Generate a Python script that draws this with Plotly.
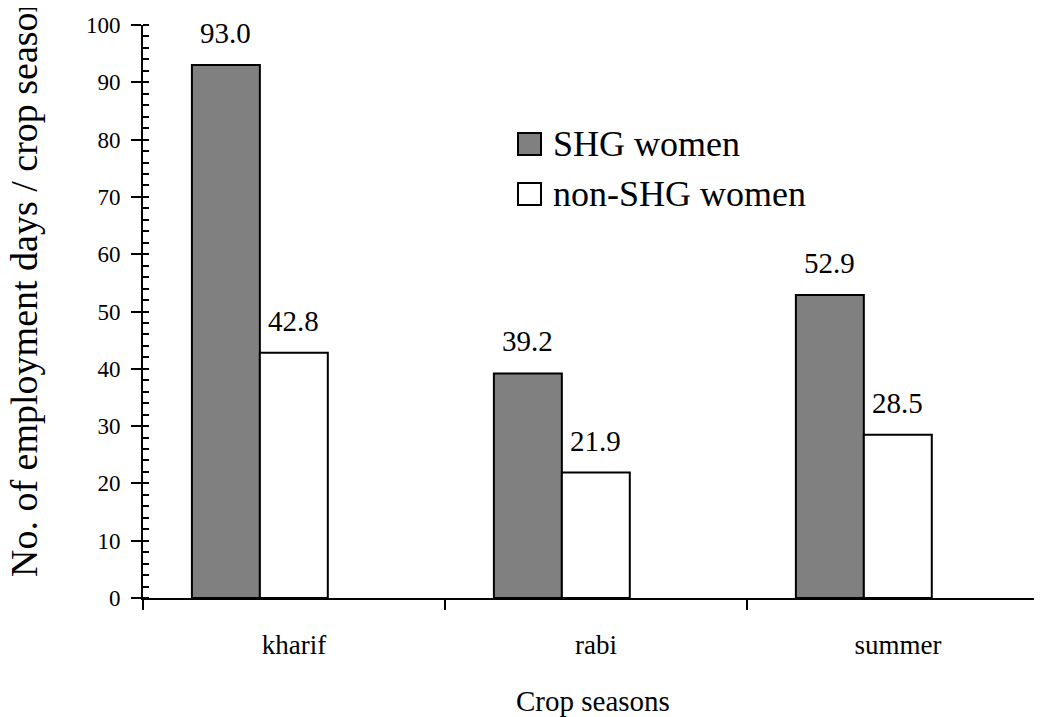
import plotly.graph_objects as go

seasons = ["kharif", "rabi", "summer"]
shg_name = "SHG women"
non_shg_name = "non-SHG women"
shg_values = [93.0, 39.2, 52.9]
non_shg_values = [42.8, 21.9, 28.5]
y_tick_values = [0, 10, 20, 30, 40, 50, 60, 70, 80, 90, 100]

FONT = "Liberation Serif, Times New Roman, serif"
PAGE_OFF = 8  # default body margin of the html page
W, H = 1042 - PAGE_OFF, 717 - PAGE_OFF
L, R, T, B = 143 - PAGE_OFF, 0, 25 - PAGE_OFF, 119
PW, PH = W - L - R, H - T - B

BAR_W = 0.225
OFF_SHG = -0.338
OFF_NON = OFF_SHG + BAR_W

def px_x(px):  # page pixel -> paper coordinate
    return (px - PAGE_OFF - L) / PW

def px_y(py):
    return (H - B - (py - PAGE_OFF)) / PH

fig = go.Figure()
fig.add_trace(go.Bar(
    x=seasons, y=shg_values, name=shg_name, width=BAR_W, offset=OFF_SHG,
    marker=dict(color="#808080", line=dict(color="black", width=2)),
    showlegend=False,
))
fig.add_trace(go.Bar(
    x=seasons, y=non_shg_values, name=non_shg_name, width=BAR_W, offset=OFF_NON,
    marker=dict(color="white", line=dict(color="black", width=2)),
    showlegend=False,
))

annotations = []
for offs, vals in ((OFF_SHG, shg_values), (OFF_NON, non_shg_values)):
    for i, v in enumerate(vals):
        annotations.append(dict(x=i + offs + BAR_W / 2, y=v, xref="x", yref="y",
                                text=f"{v:.1f}", showarrow=False, yanchor="bottom", yshift=14,
                                font=dict(family=FONT, size=29, color="black")))

# axis titles
annotations.append(dict(x=0.5, y=px_y(701), xref="paper", yref="paper", text="Crop seasons",
                        showarrow=False, xanchor="center", yanchor="middle",
                        font=dict(family=FONT, size=29, color="black")))
annotations.append(dict(x=px_x(24), y=px_y(285), xref="paper", yref="paper",
                        text="No. of employment days / crop season", textangle=-90,
                        showarrow=False, xanchor="center", yanchor="middle",
                        font=dict(family=FONT, size=38, color="black")))

# legend (manual, to match the large swatches)
legend_items = [(shg_name, "#808080", 144), (non_shg_name, "white", 194)]
shapes = []
for name, col, cy in legend_items:
    shapes.append(dict(type="rect", xref="paper", yref="paper",
                       x0=px_x(518), x1=px_x(541), y0=px_y(cy + 11), y1=px_y(cy - 11),
                       fillcolor=col, line=dict(color="black", width=2)))
    annotations.append(dict(x=px_x(551), y=px_y(cy), xref="paper", yref="paper", text=name,
                            showarrow=False, xanchor="left", yanchor="middle",
                            font=dict(family=FONT, size=36, color="black")))

fig.update_layout(
    width=W, height=H,
    margin=dict(l=L, r=R, t=T, b=B, autoexpand=False),
    paper_bgcolor="white", plot_bgcolor="white",
    barmode="overlay",
    font=dict(family=FONT, color="black"),
    annotations=annotations, shapes=shapes,
    showlegend=False,
    xaxis=dict(type="category", categoryorder="array", categoryarray=seasons,
               range=[-0.5, 2.477], tickson="boundaries", ticks="outside",
               ticklen=10, tickwidth=2, tickcolor="black",
               showline=True, linecolor="black", linewidth=2, showgrid=False,
               zeroline=False, tickfont=dict(family=FONT, size=27, color="black"),
               ticklabelstandoff=22),
    yaxis=dict(range=[0, 100], tickvals=y_tick_values, ticks="outside", ticklen=10,
               tickwidth=2, tickcolor="black", showline=True, linecolor="black",
               linewidth=2, showgrid=False, zeroline=False,
               tickfont=dict(family=FONT, size=23, color="black"), ticklabelstandoff=6,
               minor=dict(ticks="inside", dtick=2, ticklen=6, tickwidth=2, tickcolor="black",
                          showgrid=False)),
    yaxis2=dict(range=[0, 100], overlaying="y", anchor="x", side="left",
                tickvals=y_tick_values, ticks="inside", ticklen=6, tickwidth=2,
                tickcolor="black", showticklabels=False, showline=False,
                showgrid=False, zeroline=False),
)

fig.write_html("out.html")
